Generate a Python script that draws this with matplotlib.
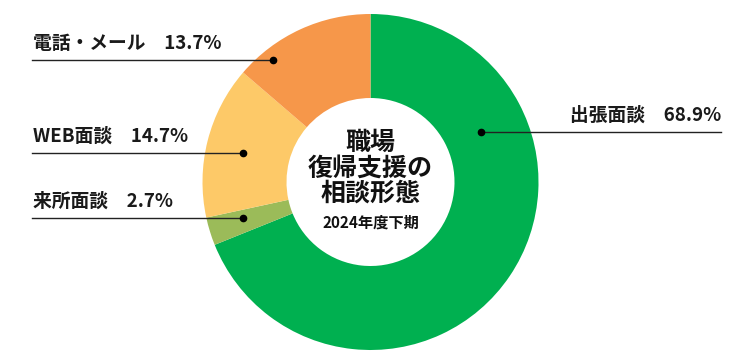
import matplotlib.pyplot as plt

plt.rcParams['font.family'] = ['Noto Sans CJK JP', 'DejaVu Sans']

# データ（12時から時計回り）
labels = ['出張面談', '来所面談', 'WEB面談', '電話・メール']
values = [68.9, 2.7, 14.7, 13.7]
colors = ['#00b050', '#9bbb59', '#fdc968', '#f6974a']

title_lines = ['職場', '復帰支援の', '相談形態']
subtitle = '2024年度下期'

W, H = 736, 360
fig = plt.figure(figsize=(W / 100, H / 100), dpi=100)
ax = fig.add_axes([0, 0, 1, 1])

cx, cy, R = 370.5, H - 182, 168
ax.pie(values, colors=colors, startangle=90, counterclock=False,
       center=(cx, cy), radius=R,
       wedgeprops=dict(width=R * 0.5, linewidth=0))

ax.set_xlim(0, W)
ax.set_ylim(0, H)
ax.set_aspect('equal')
ax.axis('off')

# 引き出し線の配置 (画像座標)
# line_y, x0, x1, dot_x, text_x, ha
leaders = {
    '出張面談':   (132, 481, 721, 481, 721, 'right'),
    '来所面談':   (218, 32, 243, 243, 33, 'left'),
    'WEB面談':    (153, 32, 243, 243, 33, 'left'),
    '電話・メール': (60, 32, 273, 273, 33, 'left'),
}

for lab, val in zip(labels, values):
    ly, x0, x1, dx, tx, ha = leaders[lab]
    y = H - ly
    ax.plot([x0, x1], [y, y], color='#222222', lw=1.0)
    ax.plot(dx, y, 'o', color='black', ms=4.5)
    ax.text(tx, y + 7, f'{lab}\u3000{val:.1f}%', ha=ha, va='bottom',
            fontsize=13.5, fontweight='bold', color='#1a1a1a')

# 中央テキスト
for i, t in enumerate(title_lines):
    ax.text(cx, H - 143 - i * 25.5, t, ha='center', va='center',
            fontsize=18, fontweight='bold', color='#111111')
ax.text(cx, H - 223, subtitle, ha='center', va='center',
        fontsize=11, fontweight='bold', color='#111111')

fig.savefig('out.png', dpi=100)
